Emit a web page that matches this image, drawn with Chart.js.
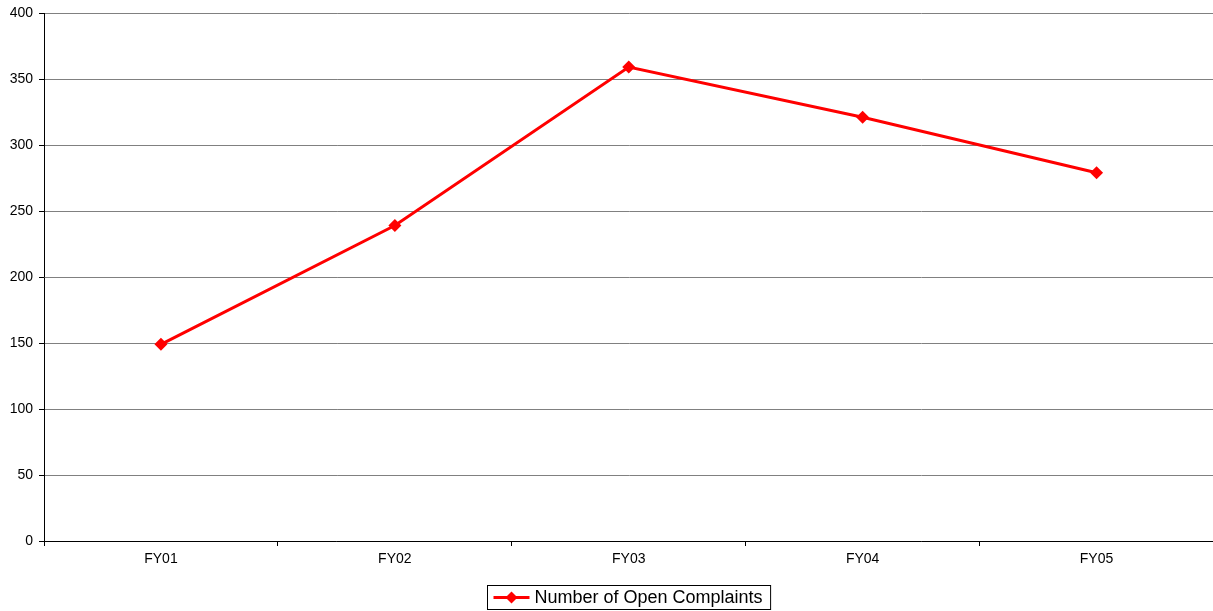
<!DOCTYPE html>
<html>
<head>
<meta charset="utf-8">
<script src="https://cdn.jsdelivr.net/npm/chart.js@4/dist/chart.umd.min.js"></script>
<style>
  html, body { margin: 0; padding: 0; background: #fff; overflow: hidden; }
  #wrap { width: 1220px; height: 611px; }
</style>
</head>
<body>
<div id="wrap"><canvas id="chart"></canvas></div>
<script>
"use strict";

// chart data
var years = ["FY01", "FY02", "FY03", "FY04", "FY05"];
var openComplaints = [149, 239, 359, 321, 279];
var seriesLabel = "Number of Open Complaints";
var yTicks = [0, 50, 100, 150, 200, 250, 300, 350, 400];

var RED = "#ff0000";
var FONT = "'Liberation Sans', Arial, sans-serif";

// legend with a box, a line sample and a diamond, centred under the plot area
var boxLegend = {
	id: "boxLegend",
	afterDraw: function(chart) {
		var ctx = chart.ctx;
		var area = chart.chartArea;
		ctx.save();
		ctx.font = "18px " + FONT;
		var textW = ctx.measureText(seriesLabel).width;
		var sample = 36, gap = 5, padL = 6, padR = 8;
		var w = padL + sample + gap + textW + padR;
		var h = 24;
		var x = Math.round((area.left + Math.min(area.right, 1213) - w) / 2) + 0.5;
		var y = 585.5;
		ctx.strokeStyle = "#000";
		ctx.lineWidth = 1;
		ctx.strokeRect(x, y, w, h);
		var cy = y + h / 2;
		ctx.strokeStyle = RED;
		ctx.lineWidth = 3;
		ctx.beginPath();
		ctx.moveTo(x + padL, cy);
		ctx.lineTo(x + padL + sample, cy);
		ctx.stroke();
		var mx = x + padL + sample / 2;
		ctx.fillStyle = RED;
		ctx.beginPath();
		ctx.moveTo(mx, cy - 6);
		ctx.lineTo(mx + 6, cy);
		ctx.lineTo(mx, cy + 6);
		ctx.lineTo(mx - 6, cy);
		ctx.closePath();
		ctx.fill();
		ctx.fillStyle = "#000";
		ctx.textBaseline = "middle";
		ctx.fillText(seriesLabel, x + padL + sample + gap, cy + 1);
		ctx.restore();
	}
};

var ctx = document.getElementById("chart").getContext("2d");
new Chart(ctx, {
	type: "line",
	data: {
		labels: years,
		datasets: [{
			label: seriesLabel,
			data: openComplaints,
			borderColor: RED,
			backgroundColor: RED,
			borderWidth: 3,
			pointStyle: "rectRot",
			pointRadius: 6.5,
			pointBorderWidth: 0,
			tension: 0
		}]
	},
	options: {
		responsive: true,
		maintainAspectRatio: false,
		animation: false,
		layout: { padding: { top: 13, right: 0, left: 0, bottom: 0 } },
		plugins: {
			legend: { display: false },
			tooltip: { enabled: false }
		},
		scales: {
			x: {
				offset: true,
				afterFit: function(scale) {
					scale.height = 70;
					scale.paddingLeft = 0;
					scale.paddingRight = 0;
				},
				grid: {
					offset: true,
					drawOnChartArea: false,
					drawTicks: true,
					tickLength: 5,
					tickColor: "#000"
				},
				border: { color: "#000", width: 1 },
				ticks: {
					color: "#000",
					padding: 5,
					font: { family: FONT, size: 14 },
					maxRotation: 0
				}
			},
			y: {
				min: 0,
				max: 400,
				afterFit: function(scale) {
					scale.width = 44;
					scale.paddingTop = 0;
					scale.paddingBottom = 0;
				},
				afterBuildTicks: function(scale) {
					scale.ticks = yTicks.map(function(v) { return { value: v }; });
				},
				grid: {
					color: "#808080",
					lineWidth: 1,
					drawTicks: true,
					tickLength: 5,
					tickColor: "#000"
				},
				border: { color: "#000", width: 1 },
				ticks: {
					color: "#000",
					padding: 6,
					font: { family: FONT, size: 14 }
				}
			}
		}
	},
	plugins: [boxLegend]
});
</script>
</body>
</html>
